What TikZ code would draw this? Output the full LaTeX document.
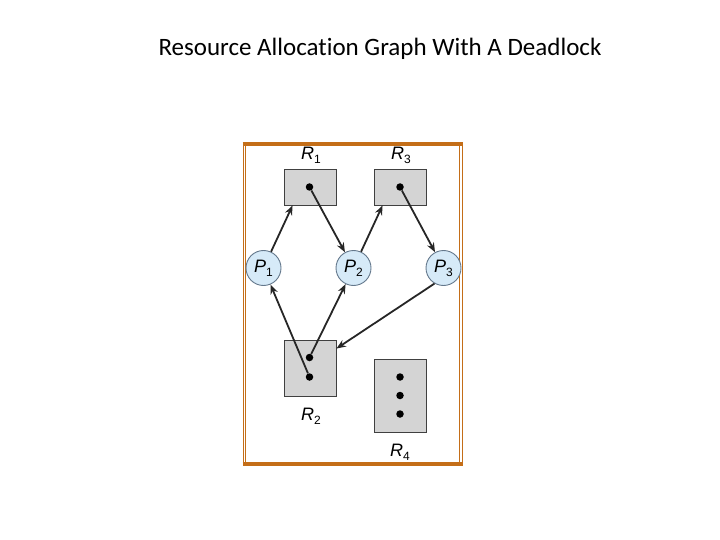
\documentclass[tikz,border=0pt]{standalone}
\usepackage{fontspec}
\setmainfont{Liberation Sans}
\newfontfamily\titlefont[Ligatures=CommonOff]{Carlito}
\usetikzlibrary{arrows.meta}
\definecolor{frameBrown}{RGB}{196, 110, 24}
\definecolor{resGray}{RGB}{212, 212, 212}
\definecolor{procBlue}{RGB}{214, 234, 248}
\definecolor{procEdge}{RGB}{100, 120, 140}
\newcommand{\rlabel}[2]{\textit{#1}\raisebox{-0.4ex}{\fontsize{12}{12}\selectfont #2}}

\begin{document}
\begin{tikzpicture}[x=1pt, y=-1pt,
    res/.style={draw=black!75, fill=resGray, line width=0.9pt, minimum width=52pt, minimum height=36pt, inner sep=0pt},
    proc/.style={circle, draw=procEdge, fill=procBlue, line width=0.9pt, minimum size=35pt, inner sep=0pt, font=\fontsize{18}{18}\selectfont},
    dot/.style={circle, fill=black, minimum size=7.5pt, inner sep=0pt},
    lbl/.style={font=\fontsize{18}{18}\selectfont},
    arr/.style={-{Stealth[length=9.5pt, width=7.5pt]}, line width=1.8pt, black!85}]
        \useasboundingbox (0,0) rectangle (720,540);
        \node[font=\titlefont\fontsize{25}{28}\selectfont] (title) at (380,49) {Resource Allocation Graph With A Deadlock};
        % frame
        \draw[frameBrown, line width=0.9pt] (243,143) -- (243,465) (245.6,143) -- (245.6,465);
        \draw[frameBrown, line width=0.9pt] (459.6,143) -- (459.6,465) (462.2,143) -- (462.2,465);
        \draw[frameBrown, line width=4pt] (242.6,144) -- (462.6,144);
        \draw[frameBrown, line width=4pt] (242.6,464) -- (462.6,464);
        % resources
        \node[res] (r1) at (310,187) {};
        \node[res] (r3) at (400,187) {};
        \node[res, minimum height=56pt] (r2) at (310,368) {};
        \node[res, minimum height=73pt] (r4) at (400,396) {};
        \node[dot] (r1d) at (309.5,187) {};
        \node[dot] (r3d) at (400,187) {};
        \node[dot] (r2a) at (309.5,357.5) {};
        \node[dot] (r2b) at (309.5,377) {};
        \node[dot] (r4a) at (400,377) {};
        \node[dot] (r4b) at (400,395.5) {};
        \node[dot] (r4c) at (400,414) {};
        \node[lbl] (r1l) at (311,155) {\rlabel{R}{1}};
        \node[lbl] (r3l) at (401,155) {\rlabel{R}{3}};
        \node[lbl] (r2l) at (311,416) {\rlabel{R}{2}};
        \node[lbl] (r4l) at (400,452) {\rlabel{R}{4}};
        % processes
        \node[proc] (p1) at (263.5,268) {\rlabel{P}{1}};
        \node[proc] (p2) at (353.5,268) {\rlabel{P}{2}};
        \node[proc] (p3) at (443.5,268) {\rlabel{P}{3}};
        % edges
        \draw[arr] (p1) -- ([xshift=9pt]r1.south west);
        \draw[arr] (r1d) -- (p2);
        \draw[arr] (p2) -- ([xshift=9pt]r3.south west);
        \draw[arr] (r3d) -- (p3);
        \draw[arr] (r2b) -- (p1);
        \draw[arr] (r2a) -- (p2);
        \draw[arr] (p3.240) -- ([yshift=-9pt]r2.north east);
\end{tikzpicture}
\end{document}
